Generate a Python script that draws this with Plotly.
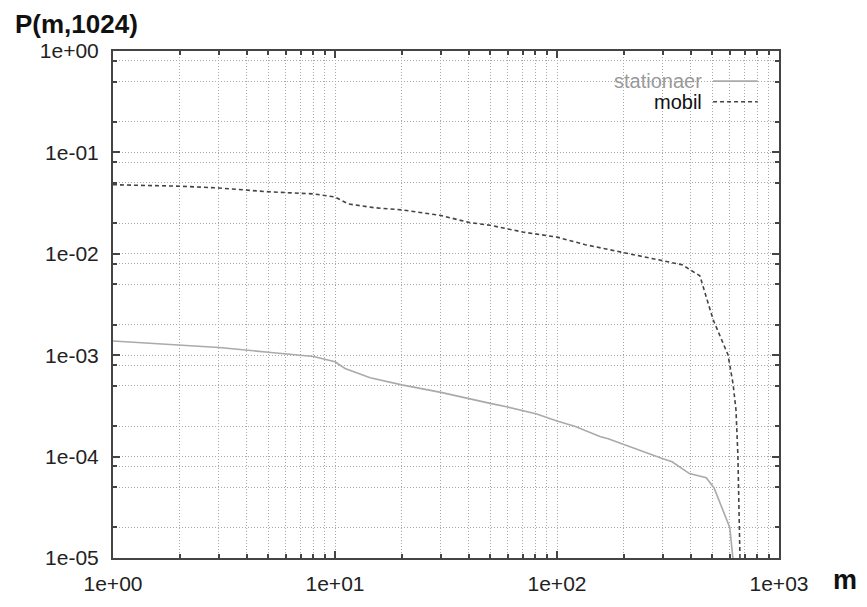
import plotly.graph_objects as go

# ---- data ----
mobil_m = [1, 2, 3, 5, 8, 10, 11.5, 15, 20, 30, 40, 50, 70, 100, 134, 170,
           300, 366, 440, 505, 589, 621, 640, 653, 667]
mobil_p = [0.048, 0.0464, 0.0446, 0.0409, 0.039, 0.0363, 0.031, 0.0285, 0.0271,
           0.0239, 0.0204, 0.0191, 0.0164, 0.0146, 0.0123, 0.011,
           0.00845, 0.0078, 0.00607, 0.00224, 0.00101, 0.00052, 0.00029, 0.000102, 0.00001]

stat_m = [1, 2, 3, 5, 8, 10, 11.1, 14.4, 20, 30, 40, 50, 60, 81, 100, 121, 156, 170,
          300, 330, 395, 470, 510, 600, 620]
stat_p = [1.38e-3, 1.27e-3, 1.19e-3, 1.07e-3, 9.7e-4, 8.6e-4, 7.4e-4, 6.0e-4, 5.1e-4,
          4.3e-4, 3.7e-4, 3.35e-4, 3.08e-4, 2.63e-4, 2.25e-4, 1.98e-4, 1.58e-4, 1.5e-4,
          9.5e-5, 8.9e-5, 6.8e-5, 6.2e-5, 4.9e-5, 2.0e-5, 1.0e-5]

x_ticks = [1, 10, 100, 1000]
x_labels = ["1e+00", "1e+01", "1e+02", "1e+03"]
y_ticks = [1, 1e-1, 1e-2, 1e-3, 1e-4, 1e-5]
y_labels = ["1e+00", "1e-01", "1e-02", "1e-03", "1e-04", "1e-05"]

series_names = ["stationaer", "mobil"]

x_minor = [d * 10 ** k for k in range(0, 3) for d in range(2, 10)]
y_minor = [d * 10.0 ** k for k in range(-5, 0) for d in (2, 5, 8)]

FONT = "Liberation Sans, Arial, sans-serif"
GRID = "#a8a8a8"
AXIS = "#444444"
GDASH = "1px,2px"

fig = go.Figure()
fig.add_trace(go.Scatter(x=stat_m, y=stat_p, mode="lines", name=series_names[0],
                         line=dict(color="#aaaaaa", width=1.6), showlegend=False))
fig.add_trace(go.Scatter(x=mobil_m, y=mobil_p, mode="lines", name=series_names[1],
                         line=dict(color="#444444", width=1.6, dash="4px,3px"),
                         showlegend=False))

common = dict(
    showline=True, linecolor=AXIS, linewidth=2, mirror="allticks",
    ticks="inside", ticklen=7, tickwidth=1.5, tickcolor=AXIS,
    showgrid=True, gridcolor=GRID, griddash=GDASH, gridwidth=1,
    tickfont=dict(family=FONT, size=21, color="#222222"),
    zeroline=False,
)

fig.update_xaxes(type="log", range=[0, 3], tickvals=x_ticks, ticktext=x_labels,
                 ticklabelstandoff=6,
                 minor=dict(tickvals=x_minor, ticks="inside", ticklen=4,
                            tickcolor=AXIS, showgrid=True, gridcolor=GRID,
                            griddash=GDASH, gridwidth=1),
                 **common)
fig.update_yaxes(type="log", range=[-5, 0], tickvals=y_ticks, ticktext=y_labels,
                 ticklabelstandoff=8,
                 minor=dict(tickvals=y_minor, ticks="inside", ticklen=4,
                            tickcolor=AXIS, showgrid=True, gridcolor=GRID,
                            griddash=GDASH, gridwidth=1),
                 **common)

# legend (gnuplot style: text right-aligned, sample to the right)
leg_y = [0.9405, 0.900]
leg_col = ["#999999", "#111111"]
leg_line = [dict(color="#aaaaaa", width=1.6), dict(color="#444444", width=1.6, dash="4px,3px")]
for name, yy, c, ln in zip(series_names, leg_y, leg_col, leg_line):
    fig.add_annotation(x=0.888, y=yy, xref="paper", yref="paper", text=name,
                       showarrow=False, xanchor="right", yanchor="middle",
                       font=dict(family=FONT, size=20, color=c))
    fig.add_shape(type="line", xref="paper", yref="paper", x0=0.901, x1=0.968,
                  y0=yy, y1=yy, line=ln)

fig.add_annotation(x=-0.055, y=1.054, xref="paper", yref="paper", text="<b>P(m,1024)</b>",
                   showarrow=False, xanchor="center", yanchor="middle",
                   font=dict(family=FONT, size=26, color="#111111"))
fig.add_annotation(x=1.099, y=-0.044, xref="paper", yref="paper", text="<b>m</b>",
                   showarrow=False, xanchor="center", yanchor="middle",
                   font=dict(family=FONT, size=27, color="#111111"))

fig.update_layout(
    width=867, height=607,
    margin=dict(l=113, r=88, t=51, b=35),
    paper_bgcolor="white", plot_bgcolor="white",
    showlegend=False,
)

# remove the browser's default page margin so the figure sits at the window origin
fig.write_html("out.html", config={"displayModeBar": False},
               post_script="document.body.style.margin='0';document.body.style.overflow='hidden';")
